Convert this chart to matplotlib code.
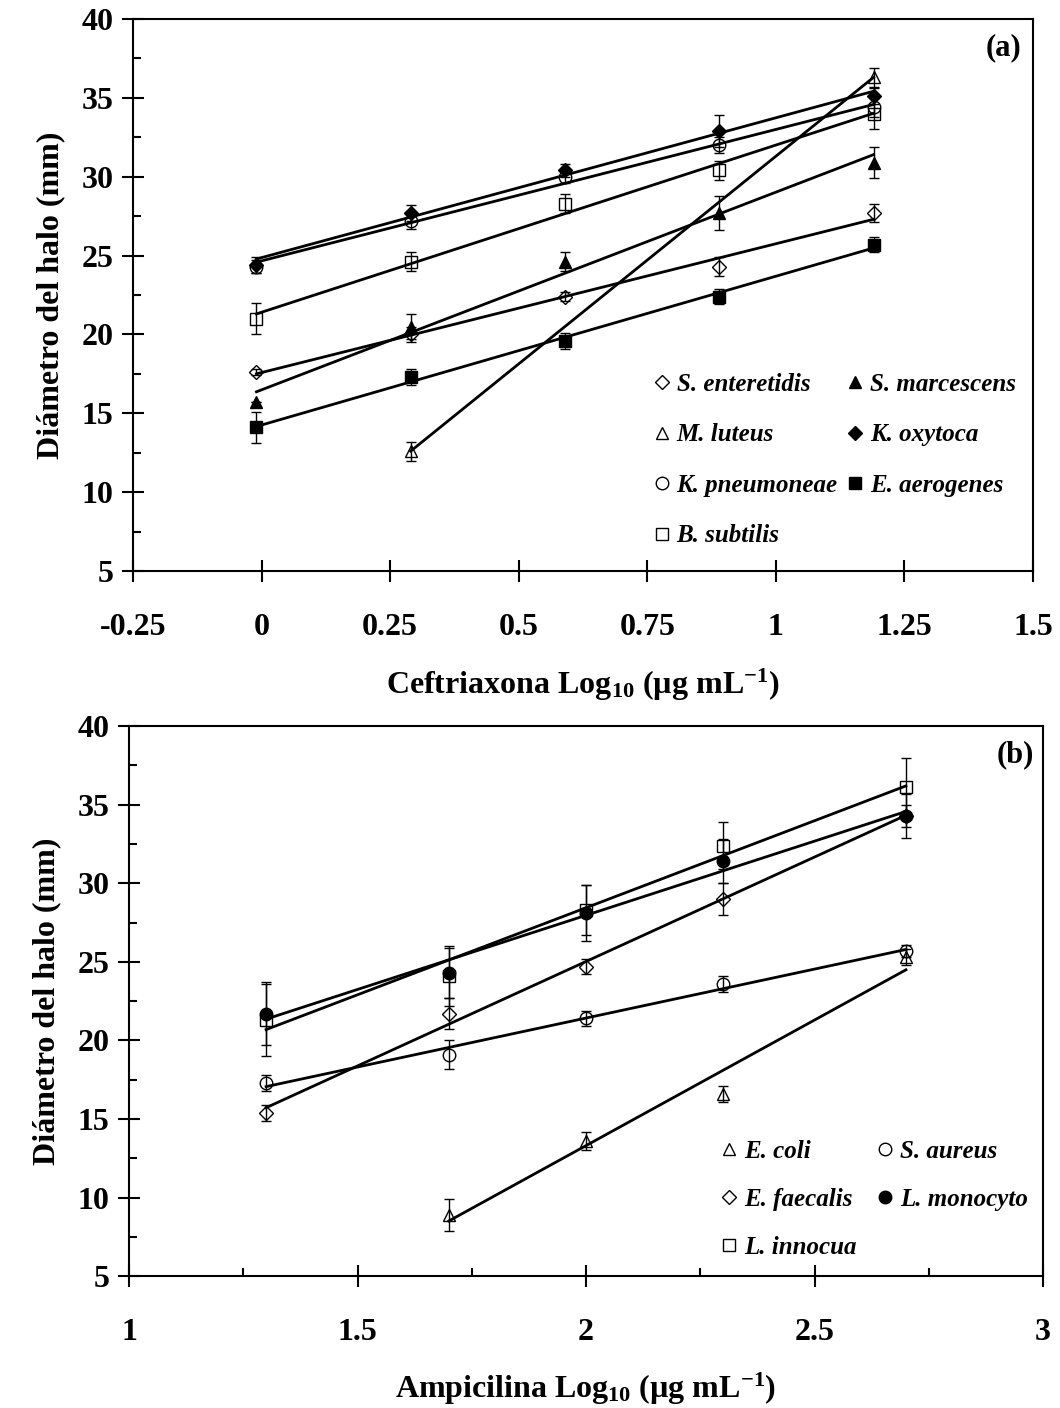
import numpy as np
import matplotlib.pyplot as plt
from matplotlib.ticker import MultipleLocator

plt.rcParams['font.family'] = ['Liberation Serif', 'DejaVu Serif']
plt.rcParams['font.weight'] = 'bold'
plt.rcParams['axes.labelweight'] = 'bold'
plt.rcParams['mathtext.fontset'] = 'custom'
plt.rcParams['mathtext.rm'] = 'Liberation Serif:bold'
plt.rcParams['mathtext.it'] = 'Liberation Serif:bold:italic'
plt.rcParams['mathtext.bf'] = 'Liberation Serif:bold'

# ---- panel (a): ceftriaxona ----
x_cef = [-0.01, 0.29, 0.59, 0.89, 1.19]
x_cef_lut = [0.29, 1.19]

s_enteretidis = [17.6, 20.0, 22.4, 24.3, 27.7]
s_enteretidis_err = [0.2, 0.5, 0.3, 0.6, 0.6]
s_marcescens = [15.7, 20.5, 24.6, 27.7, 30.9]
s_marcescens_err = [0.0, 0.8, 0.6, 1.1, 1.0]
m_luteus = [12.6, 36.3]
m_luteus_err = [0.6, 0.6]
k_oxytoca = [24.4, 27.7, 30.4, 32.9, 35.1]
k_oxytoca_err = [0.5, 0.5, 0.4, 1.0, 0.5]
k_pneumoneae = [24.3, 27.2, 30.0, 32.0, 34.4]
k_pneumoneae_err = [0.4, 0.5, 0.4, 0.5, 0.6]
e_aerogenes = [14.1, 17.3, 19.6, 22.4, 25.7]
e_aerogenes_err = [1.0, 0.5, 0.5, 0.5, 0.5]
b_subtilis = [21.0, 24.6, 28.3, 30.4, 34.0]
b_subtilis_err = [1.0, 0.6, 0.6, 0.6, 1.0]

# ---- panel (b): ampicilina ----
x_amp = [1.3, 1.7, 2.0, 2.3, 2.7]
x_amp_coli = [1.7, 2.0, 2.3, 2.7]

e_coli = [8.9, 13.6, 16.6, 25.3]
e_coli_err = [1.0, 0.6, 0.5, 0.5]
s_aureus = [17.3, 19.1, 21.4, 23.6, 25.7]
s_aureus_err = [0.5, 0.9, 0.5, 0.5, 0.4]
e_faecalis = [15.4, 21.7, 24.7, 29.0, 34.3]
e_faecalis_err = [0.5, 1.0, 0.5, 1.0, 0.7]
l_monocyto = [21.7, 24.3, 28.1, 31.4, 34.3]
l_monocyto_err = [2.0, 1.6, 1.8, 1.4, 1.4]
l_innocua = [21.3, 24.1, 28.3, 32.4, 36.1]
l_innocua_err = [2.3, 1.9, 1.6, 1.5, 1.9]


def plot_series(ax, x, y, err, marker, filled, label, ms=9):
    x = np.asarray(x)
    y = np.asarray(y)
    # regression line through the points
    m, b = np.polyfit(x, y, 1)
    xx = np.array([x.min(), x.max()])
    ax.plot(xx, m * xx + b, color='black', lw=2.0, zorder=2)
    ax.errorbar(x, y, yerr=err, fmt='none', ecolor='black', elinewidth=1.0,
                capsize=3.5, capthick=1.0, zorder=3)
    h, = ax.plot(x, y, ls='none', marker=marker, ms=ms,
                 mfc='black' if filled else 'none', mec='black', mew=1.0,
                 zorder=5 if filled else 4, label=label)
    return h


def style_axes(ax):
    for s in ax.spines.values():
        s.set_linewidth(1.5)
    ax.tick_params(which='major', direction='inout', length=16, width=1.5,
                   labelsize=23)
    ax.tick_params(which='minor', direction='in', length=6, width=1.5)
    ax.tick_params(axis='x', which='major', pad=22)
    ax.tick_params(axis='y', which='major', pad=6)
    ax.yaxis.set_major_locator(MultipleLocator(5))
    ax.yaxis.set_minor_locator(MultipleLocator(2.5))
    ax.set_ylim(5, 40)
    ax.set_ylabel('Diámetro del halo (mm)', fontsize=23, labelpad=12)


legend_font = {'style': 'italic', 'weight': 'bold', 'size': 18}

fig = plt.figure(figsize=(10.6, 14.08), dpi=100)
ax1 = fig.add_axes([0.1255, 0.5945, 0.849, 0.392])
ax2 = fig.add_axes([0.1217, 0.0937, 0.8623, 0.3906])

# panel (a)
h_ent = plot_series(ax1, x_cef, s_enteretidis, s_enteretidis_err, 'D', False, 'S. enteretidis', ms=7.5)
h_lut = plot_series(ax1, x_cef_lut, m_luteus, m_luteus_err, '^', False, 'M. luteus')
h_pne = plot_series(ax1, x_cef, k_pneumoneae, k_pneumoneae_err, 'o', False, 'K. pneumoneae')
h_sub = plot_series(ax1, x_cef, b_subtilis, b_subtilis_err, 's', False, 'B. subtilis')
h_mar = plot_series(ax1, x_cef, s_marcescens, s_marcescens_err, '^', True, 'S. marcescens')
h_oxy = plot_series(ax1, x_cef, k_oxytoca, k_oxytoca_err, 'D', True, 'K. oxytoca', ms=7.5)
h_aer = plot_series(ax1, x_cef, e_aerogenes, e_aerogenes_err, 's', True, 'E. aerogenes')

ax1.set_xlim(-0.25, 1.5)
ax1.set_xticks([-0.25, 0, 0.25, 0.5, 0.75, 1, 1.25, 1.5])
ax1.set_xticklabels(['-0.25', '0', '0.25', '0.5', '0.75', '1', '1.25', '1.5'])
style_axes(ax1)
ax1.set_xlabel('Ceftriaxona Log$_{10}$ (µg mL$^{-1}$)', fontsize=23, labelpad=18)
ax1.text(0.987, 0.975, '(a)', transform=ax1.transAxes, ha='right', va='top', fontsize=22)
ax1.legend(handles=[h_ent, h_lut, h_pne, h_sub, h_mar, h_oxy, h_aer], ncol=2,
           loc='upper left', bbox_to_anchor=(0.579, 0.359), frameon=False,
           prop=legend_font, handlelength=0.6, handletextpad=0.3,
           labelspacing=1.1, columnspacing=0.4, borderpad=0,
           borderaxespad=0, markerscale=1.0)

# panel (b)
h_col = plot_series(ax2, x_amp_coli, e_coli, e_coli_err, '^', False, 'E. coli')
h_fae = plot_series(ax2, x_amp, e_faecalis, e_faecalis_err, 'D', False, 'E. faecalis', ms=7.5)
h_inn = plot_series(ax2, x_amp, l_innocua, l_innocua_err, 's', False, 'L. innocua')
h_aur = plot_series(ax2, x_amp, s_aureus, s_aureus_err, 'o', False, 'S. aureus')
h_mon = plot_series(ax2, x_amp, l_monocyto, l_monocyto_err, 'o', True, 'L. monocyto')

ax2.set_xlim(1, 3)
ax2.set_xticks([1, 1.5, 2, 2.5, 3])
ax2.set_xticklabels(['1', '1.5', '2', '2.5', '3'])
ax2.xaxis.set_minor_locator(MultipleLocator(0.25))
style_axes(ax2)
ax2.set_xlabel('Ampicilina Log$_{10}$ (µg mL$^{-1}$)', fontsize=23, labelpad=17)
ax2.text(0.99, 0.975, '(b)', transform=ax2.transAxes, ha='right', va='top', fontsize=22)
ax2.legend(handles=[h_col, h_fae, h_inn, h_aur, h_mon], ncol=2,
           loc='upper left', bbox_to_anchor=(0.648, 0.247), frameon=False,
           prop=legend_font, handlelength=0.6, handletextpad=0.3,
           labelspacing=1.0, columnspacing=0.85, borderpad=0,
           borderaxespad=0, markerscale=1.0)

fig.savefig('out.png', dpi=100)
